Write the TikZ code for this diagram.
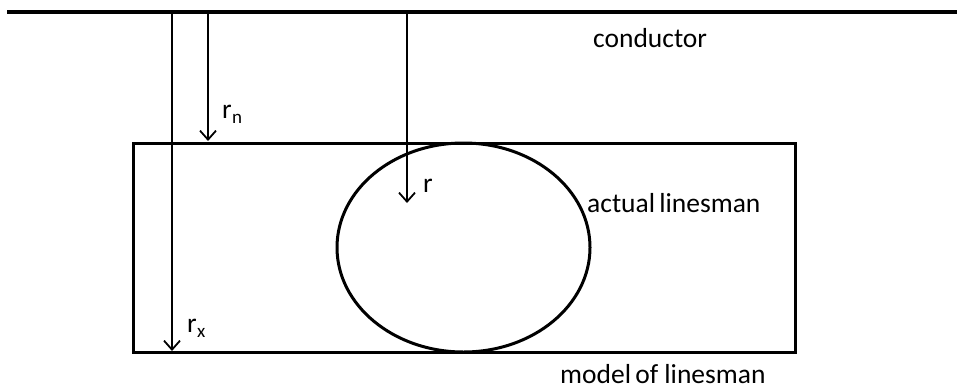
\documentclass[tikz,border=0pt]{standalone}
\usepackage{fontspec}
\setmainfont{Carlito}
\usetikzlibrary{arrows.meta,shapes.geometric}
\tikzset{
  cond/.style={line width=4.2pt},
  bx/.style  ={draw,line width=3pt,minimum width=662pt,minimum height=209pt,inner sep=0pt},
  ell/.style ={ellipse,draw,line width=3pt,minimum width=253pt,minimum height=209pt,inner sep=0pt},
  ar/.style  ={-{Straight Barb[length=9pt,width=16pt,line width=1.8pt]},line width=1.8pt},
  lbl/.style ={font=\fontsize{27.5}{32}\selectfont,inner sep=0pt,anchor=base west},
  sub/.style ={font=\fontsize{19}{22}\selectfont,inner sep=0pt,anchor=base west},
}

\begin{document}
\begin{tikzpicture}[x=1pt,y=-1pt]
  \useasboundingbox (0,0) rectangle (957,388);
  % conductor
  \coordinate (cL) at (7,12);
  \coordinate (cR) at (957,12);
  \draw[cond] (cL)--(cR);
  \node[lbl] (cond) at (593,47) {conductor};
  % model and actual linesman
  \node[bx]  (model) at (464,247.5) {};
  \node[ell] (man)   at (463.5,247.5) {};
  \node[lbl] (manl)  at (587,212) {actual\hspace{-2pt} linesman};
  \node[lbl] (modl)  at (560,383) {model\hspace{-2pt} of linesman};
  % distances
  \coordinate (sx) at (172,12);
  \coordinate (sn) at (208,12);
  \coordinate (sr) at (407,12);
  \coordinate (ex) at (172,351);
  \coordinate (en) at (208,141);
  \coordinate (er) at (407,203);
  \draw[ar] (sx)--(ex);
  \draw[ar] (sn)--(en);
  \draw[ar] (sr)--(er);
  \node[lbl] (rn) at (222,118) {r};
  \node[sub] (rnS) at (rn.base east) [yshift=-5pt] {n};
  \node[lbl] (r)  at (423,192) {r};
  \node[lbl] (rx) at (187,332) {r};
  \node[sub] (rxS) at (rx.base east) [yshift=-5pt] {x};
\end{tikzpicture}
\end{document}
